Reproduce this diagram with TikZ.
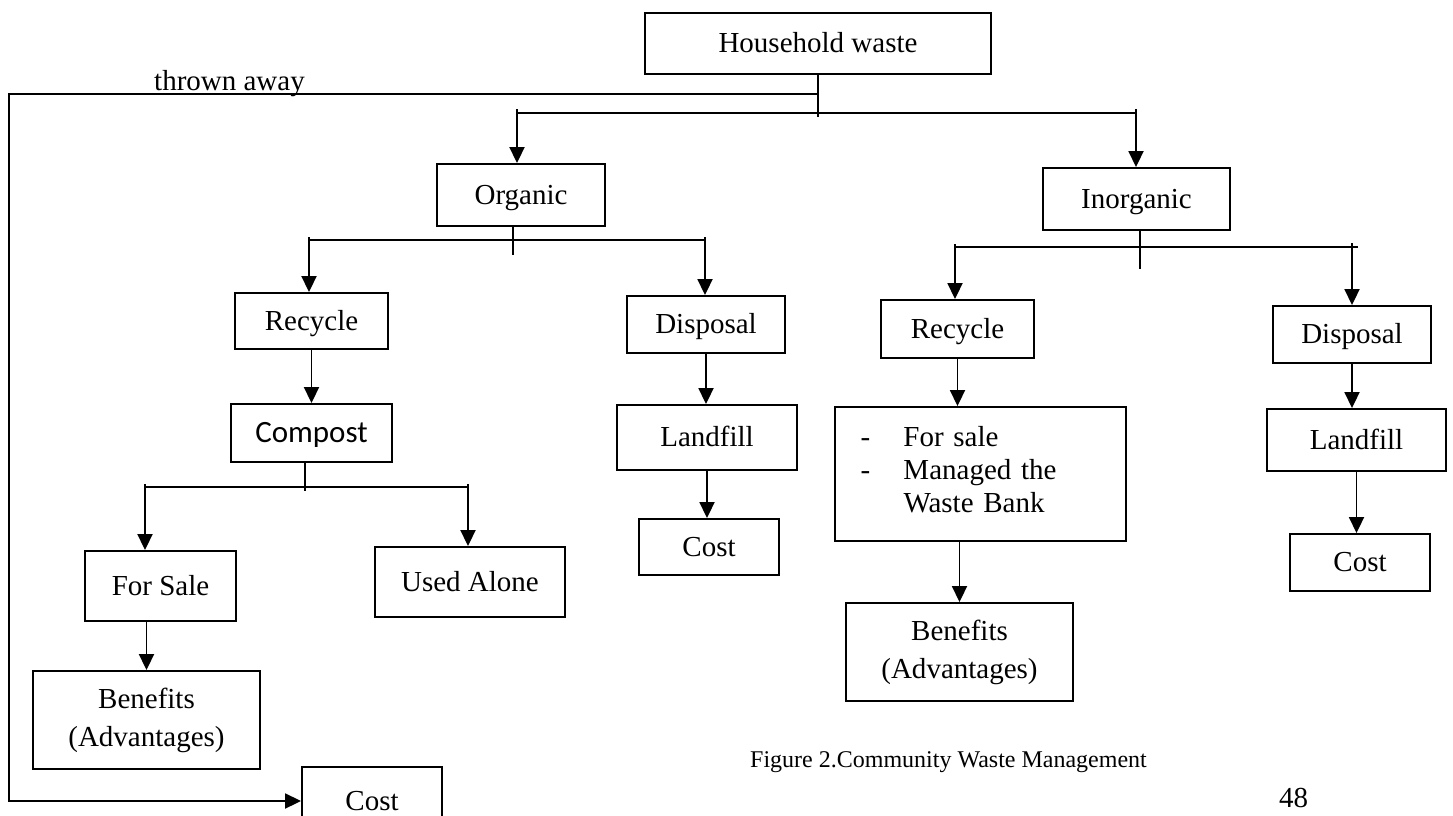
\documentclass[tikz,border=0pt]{standalone}
\usepackage{fontspec}
\setmainfont{Liberation Serif}
\newfontfamily\compostfont{Carlito}
\usetikzlibrary{arrows.meta}
\begin{document}
\begin{tikzpicture}[x=1pt,y=-1pt,line width=1.9pt,
  box/.style={draw, inner sep=0pt, font=\fontsize{29}{34}\selectfont},
  tbox/.style={box, text height=25pt, text depth=7pt},
  mbox/.style={box, align=center},
  arr/.style={-{Triangle[length=16pt,width=15pt]}},
  txt/.style={inner sep=0pt, font=\fontsize{29}{34}\selectfont}]
\clip (0,0) rectangle (1453,816);
\fill[white] (0,0) rectangle (1453,816);
\node [tbox, minimum width=346pt, minimum height=61pt] (hw) at (818,43.5) {Household waste};
\node [tbox, minimum width=168pt, minimum height=62pt] (org) at (521,195) {Organic};
\node [tbox, minimum width=187pt, minimum height=62pt] (inorg) at (1136.5,199) {Inorganic};
\node [tbox, minimum width=153pt, minimum height=56pt] (orec) at (311.5,321) {Recycle};
\node [tbox, minimum width=161pt, minimum height=58pt, font=\compostfont\fontsize{31}{36}\selectfont] (compost) at (311.5,433) {Compost};
\node [tbox, minimum width=151pt, minimum height=70pt] (fsale) at (160.5,586) {For Sale};
\node [mbox, minimum width=227pt, minimum height=98pt] (obenefit) at (146.5,720) {Benefits\\[4pt](Advantages)};
\node [tbox, minimum width=190pt, minimum height=70pt] (alone) at (470,582) {Used Alone};
\node [tbox, minimum width=158pt, minimum height=57pt] (odisp) at (706,324.5) {Disposal};
\node [tbox, minimum width=180pt, minimum height=65pt] (oland) at (707,437.5) {Landfill};
\node [tbox, minimum width=140pt, minimum height=56pt] (ocost) at (709,547) {Cost};
\node [tbox, minimum width=153pt, minimum height=58pt] (irec) at (957.5,329) {Recycle};
\node [box, minimum width=291pt, minimum height=134pt, text width=240pt, align=left,
  font=\fontsize{29}{33}\selectfont] (isale) at (980.5,474)
  {\makebox[43pt][l]{-}For sale\\
   \makebox[43pt][l]{-}Managed the\\
   \makebox[43pt][l]{}Waste Bank\\[-23pt]\mbox{}};
\node [mbox, minimum width=227pt, minimum height=98pt] (ibenefit) at (959.5,652) {Benefits\\[4pt](Advantages)};
\node [tbox, minimum width=158pt, minimum height=57pt] (idisp) at (1352,334.5) {Disposal};
\node [tbox, minimum width=179pt, minimum height=62pt] (iland) at (1356.5,440) {Landfill};
\node [tbox, minimum width=140pt, minimum height=57pt] (icost) at (1360,562.5) {Cost};
\node [tbox, minimum width=140pt, minimum height=68pt] (tcost) at (372,801) {Cost};
\node [txt, anchor=base] (thrown) at (229.5,90) {thrown away};
\node [txt, font=\fontsize{24}{28}\selectfont] (caption) at (948.5,762) {Figure 2.Community Waste Management};
\node [txt] (page) at (1293.5,798) {48};
\coordinate (hwL) at (517,113);
\coordinate (hwR) at (1136,113);
\coordinate (tw) at (9,94);
\coordinate (oL) at (309,240);
\coordinate (oR) at (705,240);
\coordinate (iL) at (955,247);
\coordinate (iR) at (1352,247);
\coordinate (cL) at (145,487);
\coordinate (cR) at (468,487);
\draw (hw.south) -- ++(0,42);
\draw (hwL) -- (hwR);
\draw[arr] ([yshift=4pt]hwL) -- (hwL |- org.north);
\draw[arr] ([yshift=4pt]hwR) -- (hwR |- inorg.north);
\draw[arr] (hw.south |- tw) -- (tw) |- (tcost.west);
\draw ([xshift=-8pt]org.south) -- ++(0,28);
\draw (oL) -- (oR);
\draw[arr] ([yshift=3pt]oL) -- (oL |- orec.north);
\draw[arr] ([yshift=3pt]oR) -- (oR |- odisp.north);
\draw ([xshift=3.5pt]inorg.south) -- ++(0,38);
\draw (iL) -- ([xshift=6pt]iR);
\draw[arr] ([yshift=3pt]iL) -- (iL |- irec.north);
\draw[arr] ([yshift=4pt]iR) -- (iR |- idisp.north);
\draw ([xshift=-6.5pt]compost.south) -- ++(0,28);
\draw (cL) -- (cR);
\draw[arr] ([yshift=3pt]cL) -- (cL |- fsale.north);
\draw[arr] ([yshift=3pt]cR) -- (cR |- alone.north);
\draw[arr] (orec.south) -- (compost.north);
\draw[arr] (obenefit.north |- fsale.south) -- (obenefit.north);
\draw[arr] (odisp.south) -- (odisp.south |- oland.north);
\draw[arr] (oland.south) -- (oland.south |- ocost.north);
\draw[arr] (irec.south) -- (irec.south |- isale.north);
\draw[arr] (ibenefit.north |- isale.south) -- (ibenefit.north);
\draw[arr] (idisp.south) -- (idisp.south |- iland.north);
\draw[arr] (iland.south) -- (iland.south |- icost.north);
\end{tikzpicture}
\end{document}
